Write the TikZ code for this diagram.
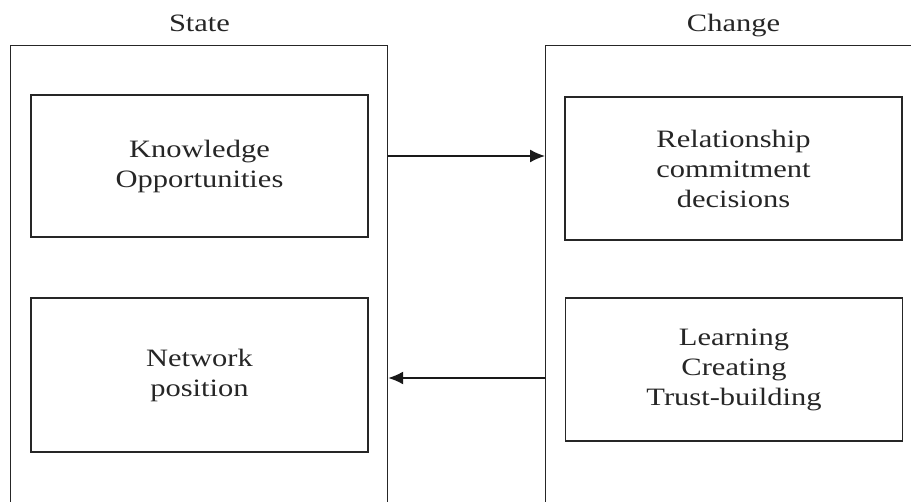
\documentclass[tikz,border=0pt]{standalone}
\usepackage{fontspec}
\setmainfont{Liberation Serif}[FakeStretch=1.22]
\usetikzlibrary{positioning,arrows.meta}
\tikzstyle{frame} = [rectangle, draw=black!85, line width=1.2pt,
    minimum width=377pt, minimum height=507pt, inner sep=0pt]
\tikzstyle{block} = [rectangle, draw=black!85, line width=1.5pt,
    minimum width=337pt, align=center, text=black!85, font=\fontsize{25}{30}\selectfont]
\tikzstyle{title} = [inner sep=0pt, text=black!85, text height=17pt, text depth=6pt,
    font=\fontsize{25}{30}\selectfont]
\tikzstyle{line} = [draw=black!90, line width=1.5pt, -{Latex[length=15pt,width=13pt]}]

\begin{document}
\begin{tikzpicture}[x=1pt,y=1pt]
		\useasboundingbox (0,0) rectangle (911,502);
		\clip (0,0) rectangle (911,502);
		% Draw frames
		\node [frame, anchor=north west] (state) at (10,457) {};
		\node [frame, anchor=north west, minimum width=420pt] (change) at (545,457) {};
		% Draw nodes
		\node [block, minimum height=142pt] (knowledge) at (199.5,336) {Knowledge\\Opportunities};
		\node [block, minimum height=154pt] (network) at (199.5,127) {Network\\position};
		\node [block, minimum height=143pt] (relation) at (733.5,333.5) {Relationship\\commitment\\decisions};
		\node [block, minimum height=143pt] (learning) at (734,132.5) {Learning\\Creating\\Trust-building};
		\node [title, anchor=south] (statetitle) at ([yshift=7pt]knowledge.north |- state.north) {State};
		\node [title, anchor=south] (changetitle) at ([yshift=7pt]relation.north |- change.north) {Change};
		\coordinate (stateout) at (state.north east |- 0,346);
		\coordinate (changein) at (change.north west |- 0,346);
		\coordinate (changeout) at (change.north west |- 0,124);
		\coordinate (statein) at (state.north east |- 0,124);
		% Draw lines connecting (arrows)
		\path [line] (stateout) -- (changein);
		\path [line] (changeout) -- (statein);
	\end{tikzpicture}
\end{document}
